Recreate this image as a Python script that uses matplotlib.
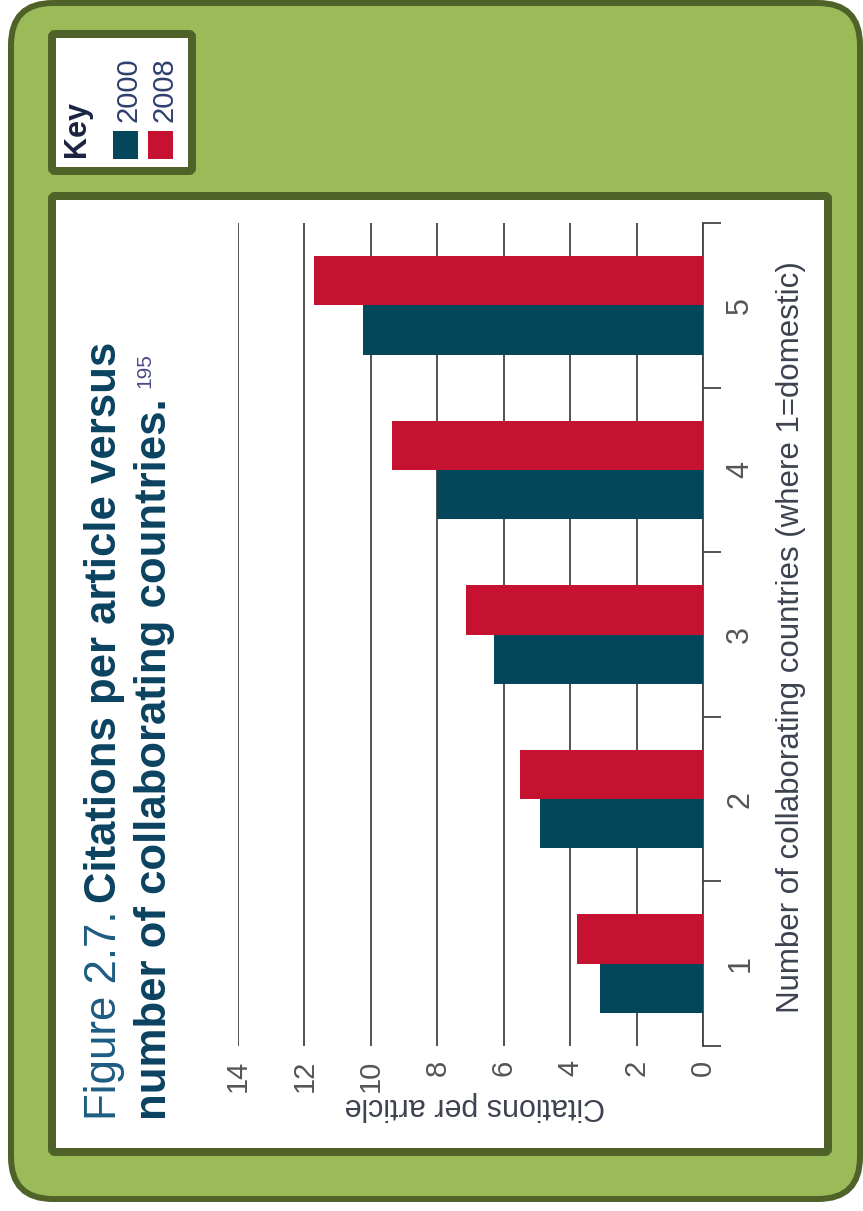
import matplotlib
matplotlib.use('Agg')
import matplotlib.pyplot as plt
from matplotlib.patches import FancyBboxPatch, Rectangle
import numpy as np

plt.rcParams['font.family'] = ['Liberation Sans', 'DejaVu Sans']

# ---- data ----
categories = ['1', '2', '3', '4', '5']
values_2000 = [3.1, 4.9, 6.3, 8.0, 10.25]
values_2008 = [3.8, 5.5, 7.15, 9.35, 11.7]
value_ticks = [0, 2, 4, 6, 8, 10, 12, 14]
series_names = ['2000', '2008']
title_part1 = 'Figure 2.7.'
title_part2 = 'Citations per article versus'
title_line2 = 'number of collaborating countries.'
title_ref = '195'
xlabel = 'Number of collaborating countries (where 1=domestic)'
ylabel = 'Citations per article'

teal = '#04465a'
red = '#c41230'
green_fill = '#9bbb59'
green_edge = '#4f6228'

W, H = 863, 1211
fig = plt.figure(figsize=(W / 100, H / 100), dpi=100, facecolor='white')

# background axes in pixel coordinates
bg = fig.add_axes([0, 0, 1, 1])
bg.set_xlim(0, W)
bg.set_ylim(H, 0)
bg.axis('off')
bg.set_zorder(0)

bg.add_patch(FancyBboxPatch((11, 3), 849, 1196,
                            boxstyle='round,pad=0,rounding_size=42',
                            fc=green_fill, ec=green_edge, lw=6 * 0.72))
bg.add_patch(FancyBboxPatch((52, 196), 776, 956,
                            boxstyle='round,pad=0,rounding_size=3',
                            fc='white', ec=green_edge, lw=8 * 0.72))
bg.add_patch(FancyBboxPatch((52, 34), 140, 137,
                            boxstyle='round,pad=0,rounding_size=3',
                            fc='white', ec=green_edge, lw=8 * 0.72))

# legend content (rotated)
bg.text(85, 157, 'Key', rotation=90, rotation_mode='anchor', ha='left',
        va='baseline', fontsize=22, fontweight='bold', color='#1a2440')
bg.add_patch(Rectangle((113, 131), 25, 28, fc=teal, ec='none'))
bg.add_patch(Rectangle((148, 131), 25, 28, fc=red, ec='none'))
bg.text(136, 122, series_names[0], rotation=90, rotation_mode='anchor',
        ha='left', va='baseline', fontsize=21, color='#2e3f6e')
bg.text(172, 122, series_names[1], rotation=90, rotation_mode='anchor',
        ha='left', va='baseline', fontsize=21, color='#2e3f6e')

# title (rotated)
bg.text(116, 1120, title_part1, rotation=90, rotation_mode='anchor',
        ha='left', va='baseline', fontsize=31.5, color='#1d5c82')
bg.text(116, 903, title_part2, rotation=90, rotation_mode='anchor',
        ha='left', va='baseline', fontsize=31.5, fontweight='bold',
        color='#0b4260')
bg.text(166, 1120, title_line2, rotation=90, rotation_mode='anchor',
        ha='left', va='baseline', fontsize=31.5, fontweight='bold',
        color='#0b4260')
bg.text(150, 388, title_ref, rotation=90, rotation_mode='anchor',
        ha='left', va='baseline', fontsize=15, color='#4a4a8a')

# axis labels
bg.text(799, 637, xlabel, rotation=90, rotation_mode='anchor',
        ha='center', va='baseline', fontsize=22.5, color='#3c4250')
bg.text(475, 1098, ylabel, rotation=180, rotation_mode='anchor',
        ha='center', va='baseline', fontsize=22, color='#3c4250')

# data axes
ax = fig.add_axes([238 / W, 1 - 1046 / H, (703 - 238) / W, (1046 - 223) / H])
ax.set_zorder(2)
ax.patch.set_alpha(0)

y = np.arange(1, len(categories) + 1)
ax.barh(y - 0.15, values_2000, height=0.3, color=teal, zorder=3)
ax.barh(y + 0.15, values_2008, height=0.3, color=red, zorder=3)
ax.set_xlim(14, 0)
ax.set_ylim(0.5, 5.5)

for s in ['top', 'left', 'bottom']:
    ax.spines[s].set_visible(False)
ax.spines['right'].set_color('#444444')
ax.spines['right'].set_linewidth(1.3)

ax.set_xticks(value_ticks)
ax.set_xticklabels([str(v) for v in value_ticks], rotation=90,
                   fontsize=21, color='#555555')
ax.tick_params(axis='x', length=0, pad=10)
ax.xaxis.grid(True, color='#444444', lw=1.3)
ax.set_axisbelow(True)

ax.yaxis.tick_right()
ax.set_yticks(np.arange(0.5, 6.0, 1.0))
ax.set_yticklabels([])
ax.set_yticks(y, minor=True)
ax.set_yticklabels(categories, minor=True, rotation=90, va='center',
                   fontsize=22, color='#555555')
ax.tick_params(axis='y', which='major', length=13, width=1.3,
               color='#444444', right=True, left=False, direction='out')
ax.tick_params(axis='y', which='minor', length=0, pad=16, right=True,
               left=False, labelright=True, labelleft=False)

fig.savefig('out.png', dpi=100, facecolor='white')
